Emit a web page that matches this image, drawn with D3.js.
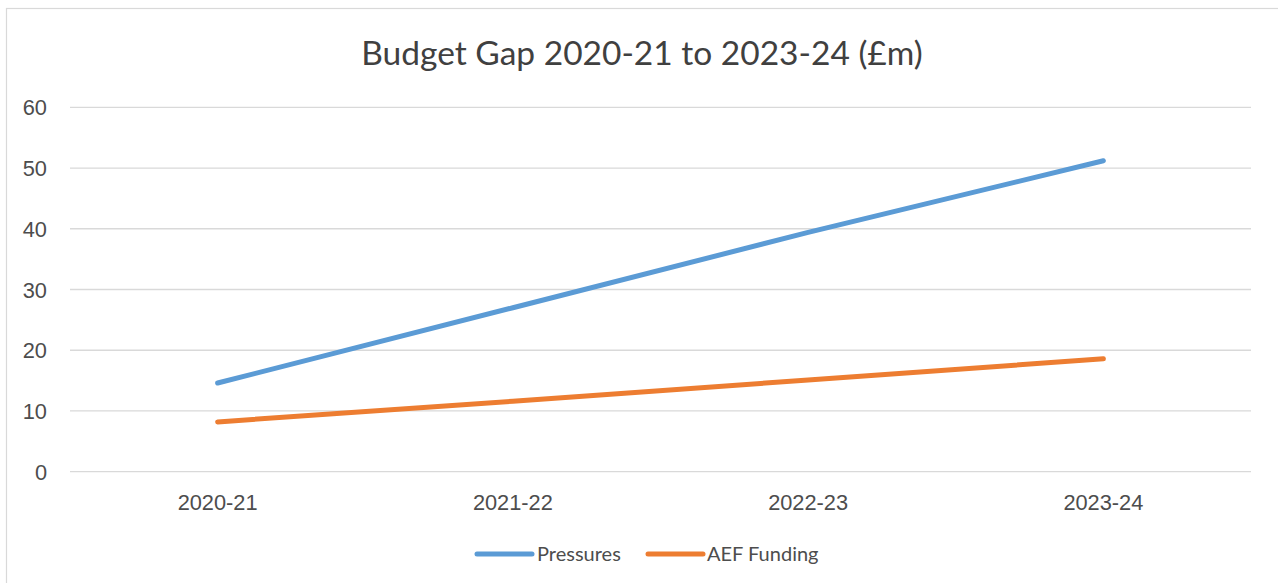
<!DOCTYPE html>
<html>
<head>
<meta charset="utf-8">
<script src="https://cdn.jsdelivr.net/npm/d3@7"></script>
<style>
  html, body { margin: 0; padding: 0; background: #fff; }
  svg { display: block; font-family: Lato, "Open Sans", sans-serif; }
</style>
</head>
<body>
<svg id="chart" width="1278" height="583"></svg>
<script>
// Budget gap figures (£m)
const categories = ["2020-21", "2021-22", "2022-23", "2023-24"];
const pressures = [14.6, 27.0, 39.4, 51.2];
const aefFunding = [8.2, 11.6, 15.1, 18.6];
const yTicks = [0, 10, 20, 30, 40, 50, 60];
const seriesNames = ["Pressures", "AEF Funding"];
const seriesColors = ["#5B9BD5", "#ED7D31"];

const svg = d3.select("#chart");
const W = 1278, H = 583;
const plot = { left: 70, right: 1251, top: 107.3, bottom: 471.7 };
const tickSize = "21.8px";
const legendSize = "20px";

// chart frame
svg.append("rect")
  .attr("x", 6.5).attr("y", 8.5)
  .attr("width", W + 10).attr("height", H + 10)
  .attr("fill", "#fff").attr("stroke", "#D9D9D9").attr("stroke-width", 1.2);

const x = d3.scaleBand().domain(categories).range([plot.left, plot.right]);
const y = d3.scaleLinear().domain([0, 60]).range([plot.bottom, plot.top]);

// gridlines
svg.append("g")
  .selectAll("line").data(yTicks).join("line")
  .attr("x1", plot.left).attr("x2", plot.right)
  .attr("y1", d => y(d)).attr("y2", d => y(d))
  .attr("stroke", "#D9D9D9").attr("stroke-width", 1.3);

// y axis labels
const yAxis = d3.axisLeft(y).tickValues(yTicks).tickSize(0).tickPadding(0);
const gy = svg.append("g").attr("transform", `translate(47,0)`).call(yAxis);
gy.select(".domain").remove();
gy.selectAll("text")
  .attr("fill", "#4d4d4d").style("font-size", tickSize).attr("dy", "0.35em");

// x axis labels
const xAxis = d3.axisBottom(x).tickSize(0).tickPadding(0);
const gx = svg.append("g").attr("transform", `translate(0,${plot.bottom + 23})`).call(xAxis);
gx.select(".domain").remove();
gx.selectAll("text")
  .attr("fill", "#4d4d4d").style("font-size", tickSize).attr("dy", "0.71em");

// series lines
const line = d3.line()
  .x((d, i) => x(categories[i]) + x.bandwidth() / 2)
  .y(d => y(d));

[pressures, aefFunding].forEach((vals, k) => {
  svg.append("path")
    .datum(vals)
    .attr("d", line)
    .attr("fill", "none")
    .attr("stroke", seriesColors[k])
    .attr("stroke-width", 5)
    .attr("stroke-linecap", "round")
    .attr("stroke-linejoin", "round");
});

// title
svg.append("text")
  .attr("x", 642).attr("y", 65)
  .attr("text-anchor", "middle")
  .attr("fill", "#404040")
  .style("font-size", "33.5px")
  .text("Budget Gap 2020-21 to 2023-24 (£m)");

// legend
const legendItems = [
  { x: 477, tx: 537 },
  { x: 648, tx: 707 }
];
legendItems.forEach((it, k) => {
  svg.append("line")
    .attr("x1", it.x).attr("x2", it.x + 55)
    .attr("y1", 554).attr("y2", 554)
    .attr("stroke", seriesColors[k]).attr("stroke-width", 5)
    .attr("stroke-linecap", "round");
  svg.append("text")
    .attr("x", it.tx).attr("y", 554).attr("dy", "0.35em")
    .attr("fill", "#4d4d4d").style("font-size", legendSize)
    .text(seriesNames[k]);
});
</script>
</body>
</html>
